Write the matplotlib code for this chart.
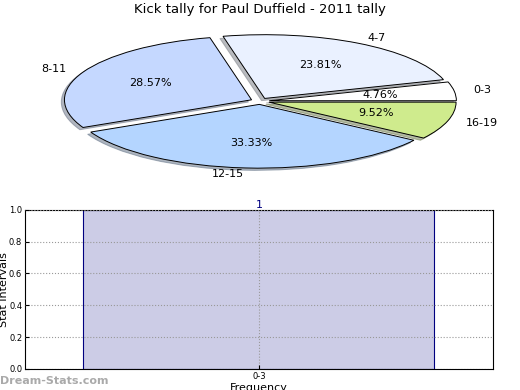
import matplotlib
matplotlib.use('Agg')
import matplotlib.pyplot as plt

# pie data
labels = ['0-3', '4-7', '8-11', '12-15', '16-19']
shares = [4.76, 23.81, 28.57, 33.33, 9.52]
colors = ['#ffffff', '#eaf1ff', '#c5d8ff', '#b4d5ff', '#cfeb8d']

# bar data
bar_labels = ['0-3']
bar_values = [1]

fig = plt.figure(figsize=(5.2, 3.9), dpi=100)

# # Pie
ax1 = fig.add_axes([0.025, 0.528, 0.95, 0.425])
wedges, texts, autotexts = ax1.pie(shares, labels=labels, colors=colors, autopct='%1.2f%%',
                                   explode=[0.05] * len(shares), startangle=0,
                                   shadow={'ox': -0.012, 'oy': -0.025, 'shade': 0.5},
                                   wedgeprops={'edgecolor': 'black', 'linewidth': 0.7},
                                   textprops={'fontsize': 8})
ax1.set_aspect('auto')
ax1.set_xlim(-1.32, 1.32)
ax1.set_ylim(-1.3, 1.3)
fig.text(0.5, 0.975, 'Kick tally for Paul Duffield - 2011 tally', ha='center', va='center', fontsize=9.5)

# # Bar
ax2 = fig.add_axes([0.048, 0.054, 0.9, 0.408])
ax2.bar(range(len(bar_values)), bar_values, width=0.75, color='#ccccE6', edgecolor='#000080', linewidth=0.8)
for i, v in enumerate(bar_values):
    ax2.text(i, v, str(v), ha='center', va='bottom', color='#000080', fontsize=8)
ax2.set_xlim(-0.5, 0.5)
ax2.set_ylim(0, 1.0)
ax2.set_xticks(range(len(bar_labels)))
ax2.set_xticklabels(bar_labels)
ax2.set_yticks([0.0, 0.2, 0.4, 0.6, 0.8, 1.0])
ax2.tick_params(labelsize=6, direction='in', length=3, pad=2)
ax2.grid(True, linestyle=':', color='#999999', linewidth=0.8)
ax2.set_axisbelow(False)
ax2.set_xlabel('Frequency', fontsize=8, labelpad=2)
ax2.set_ylabel('Stat Intervals', fontsize=8, labelpad=0)
fig.text(0.0, 0.024, 'Dream-Stats.com', color='#aaaaaa', fontsize=8, fontweight='bold', ha='left', va='center')

plt.savefig('out.png')
